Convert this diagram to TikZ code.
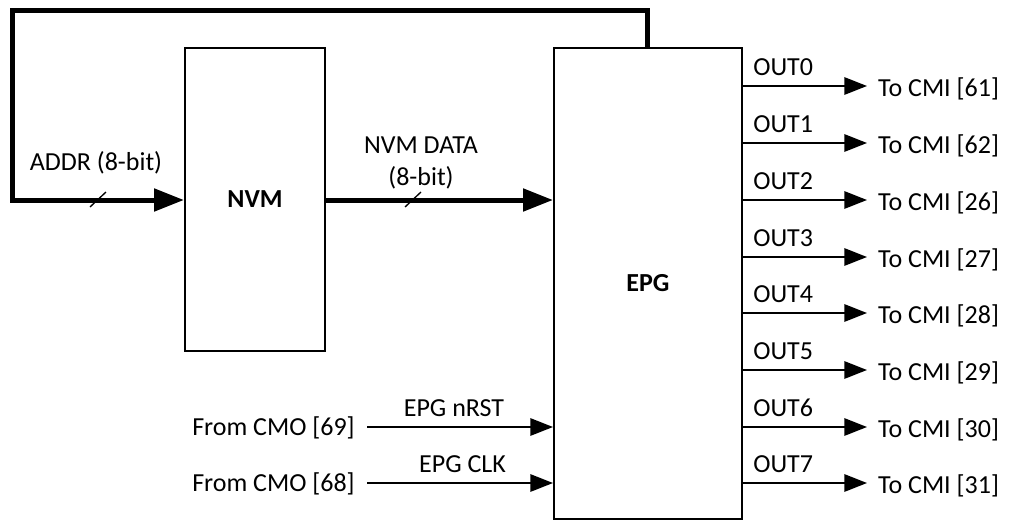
\documentclass[tikz,border=0pt]{standalone}
\usepackage{fontspec}
\setmainfont{Carlito}
\usetikzlibrary{arrows.meta}
\tikzset{
  blk/.style={draw,line width=1.5pt,font=\fontsize{19.5}{23}\selectfont\bfseries},
  sig/.style={line width=1.5pt,-{Triangle[length=17pt,width=13pt]}},
  bus/.style={line width=3.75pt,-{Triangle[length=22.5pt,width=16.5pt]}},
  tick/.style={line width=1pt}
}
\begin{document}
\begin{tikzpicture}[x=0.75pt,y=-0.75pt,line join=miter,font=\fontsize{19.5}{23}\selectfont]
  \useasboundingbox (0,0) rectangle (1013,521);
  \node[blk,minimum width=105pt,minimum height=227.25pt] (nvm) at (255,199.5) {NVM};
  \node[blk,minimum width=141pt,minimum height=353.25pt] (epg) at (648,283.5) {EPG};
  % address bus back to the NVM
  \coordinate (lp1) at (647,10);
  \coordinate (lp2) at (12,10);
  \coordinate (lp3) at (12,200);
  \draw[bus] (epg.north -| lp1) -- (lp1) -- (lp2) -- (lp3) -- (lp3 -| nvm.west);
  \draw[bus] (nvm.east |- lp3) -- (epg.west |- lp3);
  \draw[tick] (90,207) -- (106,192);
  \draw[tick] (405,207) -- (421,192);
  \node[anchor=base] (addr) at (96,170) {ADDR (8-bit)};
  \node[anchor=base] (dat1) at (421,153) {NVM DATA};
  \node[anchor=base] (dat2) at (421,185) {(8-bit)};
  % outputs
  \foreach \n/\y/\c in {0/86/61,1/143/62,2/200/26,3/257/27,4/313/28,5/370/29,6/427/30,7/483/31}{
    \coordinate (out\n) at (epg.east |- 0,\y);
    \coordinate (cmi\n) at (867,\y);
    \draw[sig] (out\n) -- (cmi\n);
    \node[anchor=base west] (outl\n) at (748.6,\y-11) {OUT\n};
    \node[anchor=base west] (cmil\n) at (873.5,\y+10) {To CMI [\c]};
  }
  % inputs
  \foreach \n/\y/\c/\t/\x in {0/427/69/EPG nRST/454,1/483/68/EPG CLK/462.5}{
    \coordinate (src\n) at (367,\y);
    \draw[sig] (src\n) -- (epg.west |- src\n);
    \node[anchor=base east] (cmo\n) at (359.4,\y+8.5) {From CMO [\c]};
    \node[anchor=base] (inl\n) at (\x,\y-11) {\t};
  }
\end{tikzpicture}
\end{document}
